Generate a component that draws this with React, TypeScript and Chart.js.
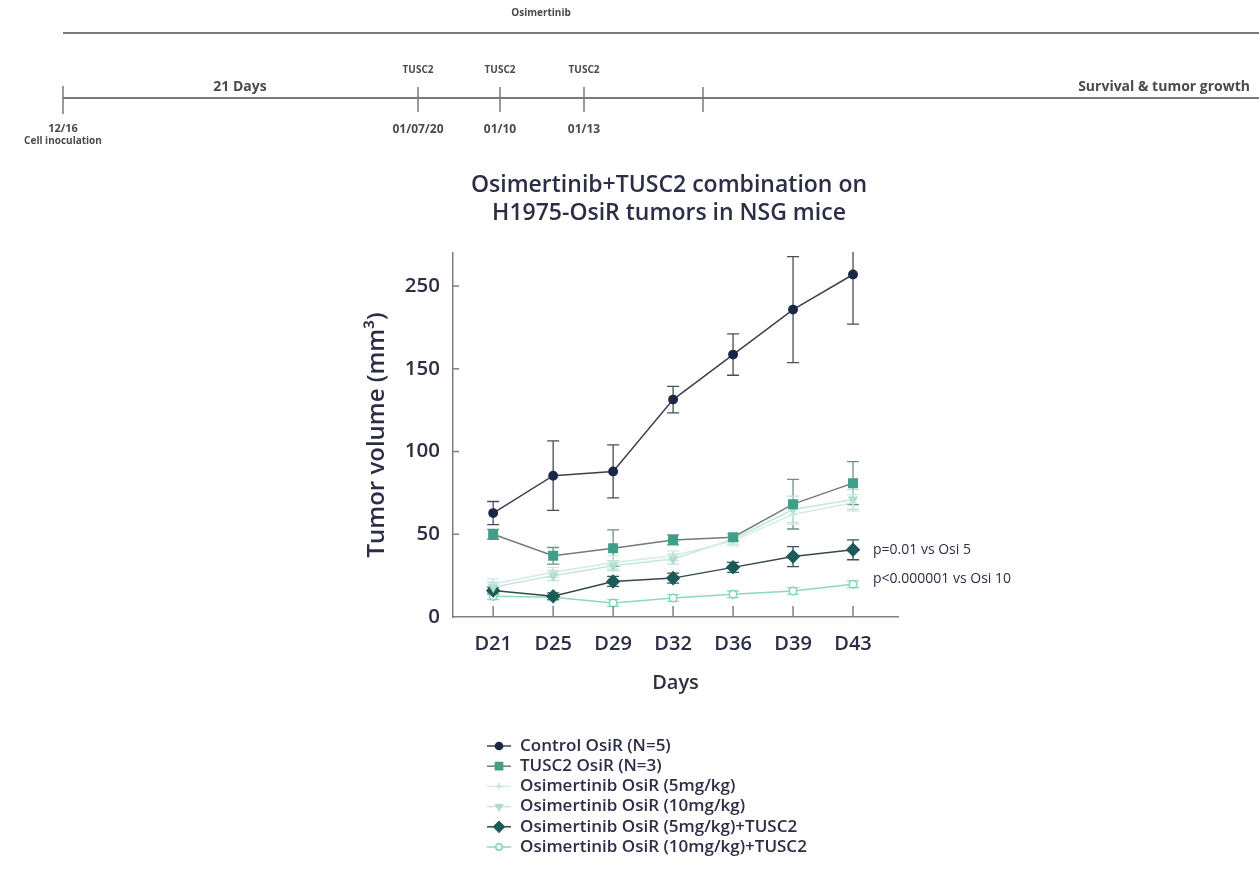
import React, { useEffect, useRef } from 'react';
import { Chart, registerables } from 'chart.js';
import { drawPoint } from 'chart.js/helpers';

Chart.register(...registerables);

// ---- data ----
const days = ['D21', 'D25', 'D29', 'D32', 'D36', 'D39', 'D43'];
const yTickValues = [0, 50, 100, 150, 200];
const yTickLabels = ['0', '50', '100', '150', '250'];

const controlMean = [62.8, 85.4, 88, 131.4, 158.6, 185.8, 207];
const controlErr = [7, 21, 16, 8, 12.5, 32, 30];
const tusc2Mean = [50, 37, 41.6, 46.6, 48.2, 68.2, 80.9];
const tusc2Err = [3, 5, 11, 3, 2, 15, 13];
const osi5Mean = [20, 27, 33, 37, 46, 62, 69];
const osi5Err = [3, 3, 4, 3, 3, 6, 5];
const osi10Mean = [18, 25, 31, 35, 47, 65, 71];
const osi10Err = [3, 3, 3, 3, 3, 8, 6];
const osi5TMean = [16, 12.5, 21.5, 23.5, 30, 36.5, 40.6];
const osi5TErr = [2, 2, 3, 3, 3, 6, 6];
const osi10TMean = [12.5, 12, 8.5, 11.5, 13.7, 15.7, 19.8];
const osi10TErr = [2, 2, 2, 2, 2, 2, 2];

const seriesLabels = [
  'Control OsiR (N=5)',
  'TUSC2 OsiR (N=3)',
  'Osimertinib OsiR (5mg/kg)',
  'Osimertinib OsiR (10mg/kg)',
  'Osimertinib OsiR (5mg/kg)+TUSC2',
  'Osimertinib OsiR (10mg/kg)+TUSC2',
];

const titleLines = ['Osimertinib+TUSC2 combination on', 'H1975-OsiR tumors in NSG mice'];
const annotations = ['p=0.01 vs Osi 5', 'p<0.000001 vs Osi 10'];

const timelineDoses = ['TUSC2', 'TUSC2', 'TUSC2'];
const timelineDates = ['01/07/20', '01/10', '01/13'];

const FONT = '"Open Sans", sans-serif';
const TEXT = '#2b2e45';

const toXY = (arr: number[]) => arr.map((v, i) => ({ x: i, y: v }));

const errorBarPlugin = {
  id: 'errorBars',
  beforeDatasetsDraw(chart: any) {
    const { ctx, chartArea } = chart;
    const xs = chart.scales.x;
    const ys = chart.scales.y;
    ctx.save();
    ctx.beginPath();
    ctx.rect(chartArea.left, chartArea.top - 1, chartArea.right - chartArea.left, chartArea.bottom - chartArea.top + 1);
    ctx.clip();
    chart.data.datasets.forEach((ds: any) => {
      ctx.strokeStyle = ds.errColor;
      ctx.lineWidth = 1.3;
      ds.data.forEach((p: any, i: number) => {
        const e = ds.errors[i];
        const x = xs.getPixelForValue(p.x);
        const y1 = ys.getPixelForValue(p.y + e);
        const y2 = ys.getPixelForValue(p.y - e);
        ctx.beginPath();
        ctx.moveTo(x, y1);
        ctx.lineTo(x, y2);
        ctx.moveTo(x - 6, y1);
        ctx.lineTo(x + 6, y1);
        ctx.moveTo(x - 6, y2);
        ctx.lineTo(x + 6, y2);
        ctx.stroke();
      });
    });
    ctx.restore();
  },
};

const decorPlugin = {
  id: 'decor',
  afterDraw(chart: any) {
    const { ctx, chartArea } = chart;
    const xs = chart.scales.x;
    const ys = chart.scales.y;
    ctx.save();
    // inward tick marks
    ctx.strokeStyle = '#7d7f88';
    ctx.lineWidth = 1.5;
    days.forEach((_, i) => {
      const x = xs.getPixelForValue(i);
      ctx.beginPath();
      ctx.moveTo(x, chartArea.bottom);
      ctx.lineTo(x, chartArea.bottom - 11);
      ctx.stroke();
    });
    yTickValues.forEach((v) => {
      if (v === 0) return;
      const y = ys.getPixelForValue(v);
      ctx.beginPath();
      ctx.moveTo(chartArea.left, y);
      ctx.lineTo(chartArea.left + 6, y);
      ctx.stroke();
    });

    // title
    ctx.fillStyle = TEXT;
    ctx.textAlign = 'center';
    ctx.textBaseline = 'middle';
    ctx.font = `600 23px ${FONT}`;
    titleLines.forEach((t, i) => ctx.fillText(t, 669, 185 + i * 28));

    // annotations
    ctx.textAlign = 'left';
    ctx.font = `400 14px ${FONT}`;
    const lastX = xs.getPixelForValue(6);
    ctx.fillText(annotations[0], lastX + 20, ys.getPixelForValue(osi5TMean[6]));
    ctx.fillText(annotations[1], lastX + 20, ys.getPixelForValue(osi10TMean[6]) - 5);

    // legend
    chart.data.datasets.forEach((ds: any, i: number) => {
      const y = 746 + i * 20.2;
      ctx.strokeStyle = ds.borderColor;
      ctx.lineWidth = 1.5;
      ctx.beginPath();
      ctx.moveTo(487, y);
      ctx.lineTo(511, y);
      ctx.stroke();
      ctx.fillStyle = ds.pointBackgroundColor;
      ctx.strokeStyle = ds.pointBorderColor;
      ctx.lineWidth = ds.pointBorderWidth;
      drawPoint(ctx, { pointStyle: ds.pointStyle, rotation: ds.pointRotation || 0, radius: ds.pointRadius * 0.85, borderWidth: ds.pointBorderWidth }, 499, y);
      ctx.fillStyle = TEXT;
      ctx.font = `600 17px ${FONT}`;
      ctx.textAlign = 'left';
      ctx.textBaseline = 'middle';
      ctx.fillText(ds.label, 520, y);
    });

    // timeline
    ctx.strokeStyle = '#7a7a7a';
    ctx.lineWidth = 2;
    ctx.beginPath();
    ctx.moveTo(63, 33);
    ctx.lineTo(1259, 33);
    ctx.moveTo(63, 98);
    ctx.lineTo(1259, 98);
    ctx.stroke();
    ctx.lineWidth = 1.5;
    const ticks = [[63, 86, 114], [418, 87, 112], [500, 87, 112], [584, 87, 112], [703, 87, 112]];
    ticks.forEach(([x, a, b]) => {
      ctx.beginPath();
      ctx.moveTo(x, a);
      ctx.lineTo(x, b);
      ctx.stroke();
    });
    ctx.fillStyle = '#4a4a4a';
    ctx.textAlign = 'center';
    ctx.font = `700 10px ${FONT}`;
    ctx.fillText('Osimertinib', 541, 13);
    const doseX = [418, 500, 584];
    timelineDoses.forEach((t, i) => ctx.fillText(t, doseX[i], 70));
    ctx.font = `700 12px ${FONT}`;
    timelineDates.forEach((t, i) => ctx.fillText(t, doseX[i], 130));
    ctx.font = `700 11px ${FONT}`;
    ctx.fillText('12/16', 63, 129);
    ctx.font = `700 10px ${FONT}`;
    ctx.fillText('Cell inoculation', 63, 141);
    ctx.font = `700 14px ${FONT}`;
    ctx.fillText('21 Days', 240, 87);
    ctx.textAlign = 'right';
    ctx.font = `700 14px ${FONT}`;
    ctx.fillText('Survival & tumor growth', 1250, 87);
    ctx.restore();
  },
};

export default function App() {
  const ref = useRef<HTMLCanvasElement | null>(null);
  useEffect(() => {
    if (!ref.current) return;
    const mk = (label: string, mean: number[], err: number[], style: any) => ({
      label,
      data: toXY(mean),
      errors: err,
      borderWidth: 1.5,
      pointBorderWidth: 1.5,
      ...style,
    });
    const datasets = [
      mk(seriesLabels[0], controlMean, controlErr, {
        borderColor: '#3d4052', errColor: '#4a4d5a', pointStyle: 'circle', pointRadius: 4.2,
        pointBackgroundColor: '#1b2747', pointBorderColor: '#1b2747',
      }),
      mk(seriesLabels[1], tusc2Mean, tusc2Err, {
        borderColor: '#6f7c78', errColor: '#6f8f86', pointStyle: 'rect', pointRadius: 6,
        pointBackgroundColor: '#3f9f88', pointBorderColor: '#3f9f88',
      }),
      mk(seriesLabels[2], osi5Mean, osi5Err, {
        borderColor: '#d3ece6', errColor: '#d0eae4', pointStyle: 'cross', pointRadius: 4,
        pointBackgroundColor: '#c2e4dc', pointBorderColor: '#c2e4dc',
      }),
      mk(seriesLabels[3], osi10Mean, osi10Err, {
        borderColor: '#c4e6dd', errColor: '#bde3d9', pointStyle: 'triangle', pointRotation: 180, pointRadius: 4.5,
        pointBackgroundColor: '#aedccf', pointBorderColor: '#aedccf',
      }),
      mk(seriesLabels[4], osi5TMean, osi5TErr, {
        borderColor: '#34474a', errColor: '#3a5557', pointStyle: 'rectRot', pointRadius: 6.2,
        pointBackgroundColor: '#1d5b58', pointBorderColor: '#1d5b58',
      }),
      mk(seriesLabels[5], osi10TMean, osi10TErr, {
        borderColor: '#8adcb9', errColor: '#8adcb9', pointStyle: 'circle', pointRadius: 3.8,
        pointBackgroundColor: '#ffffff', pointBorderColor: '#7fd6b0',
      }),
    ];
    const chart = new Chart(ref.current, {
      type: 'line',
      data: { datasets },
      plugins: [errorBarPlugin, decorPlugin],
      options: {
        responsive: false,
        animation: false,
        layout: { padding: { left: 353, right: 361, top: 253, bottom: 178 } },
        plugins: { legend: { display: false }, tooltip: { enabled: false }, title: { display: false } },
        elements: { line: { tension: 0 } },
        scales: {
          x: {
            type: 'linear',
            min: -0.67,
            max: 6.75,
            afterBuildTicks: (s: any) => { s.ticks = days.map((_, i) => ({ value: i })); },
            afterFit: (s: any) => { s.height = 80; },
            grid: { display: false, drawTicks: false },
            border: { display: true, color: '#7d7f88', width: 1.5 },
            ticks: {
              autoSkip: false,
              maxRotation: 0,
              padding: 15,
              color: TEXT,
              font: { family: FONT, size: 20, weight: '600' },
              callback: (v: any) => days[v] ?? '',
            },
            title: { display: true, text: 'Days', color: TEXT, font: { family: FONT, size: 20, weight: '600' }, padding: { top: 0, bottom: 2 } },
          },
          y: {
            min: 0,
            max: 220,
            afterBuildTicks: (s: any) => { s.ticks = yTickValues.map((v) => ({ value: v })); },
            afterFit: (s: any) => { s.width = 100; },
            grid: { display: false, drawTicks: false },
            border: { display: true, color: '#7d7f88', width: 1.5 },
            ticks: {
              padding: 13,
              color: TEXT,
              font: { family: FONT, size: 20.5, weight: '600' },
              callback: (v: any) => yTickLabels[yTickValues.indexOf(v)] ?? '',
            },
            title: { display: true, text: 'Tumor volume (mm³)', color: TEXT, font: { family: FONT, size: 24, weight: '600' }, padding: { top: 10, bottom: 0 } },
          },
        },
      } as any,
    });
    return () => chart.destroy();
  }, []);
  return (
    <div style={{ position: 'fixed', left: 0, top: 0, width: 1259, height: 875, background: '#fff' }}>
      <canvas ref={ref} width={1259} height={875} style={{ display: 'block' }} />
    </div>
  );
}
